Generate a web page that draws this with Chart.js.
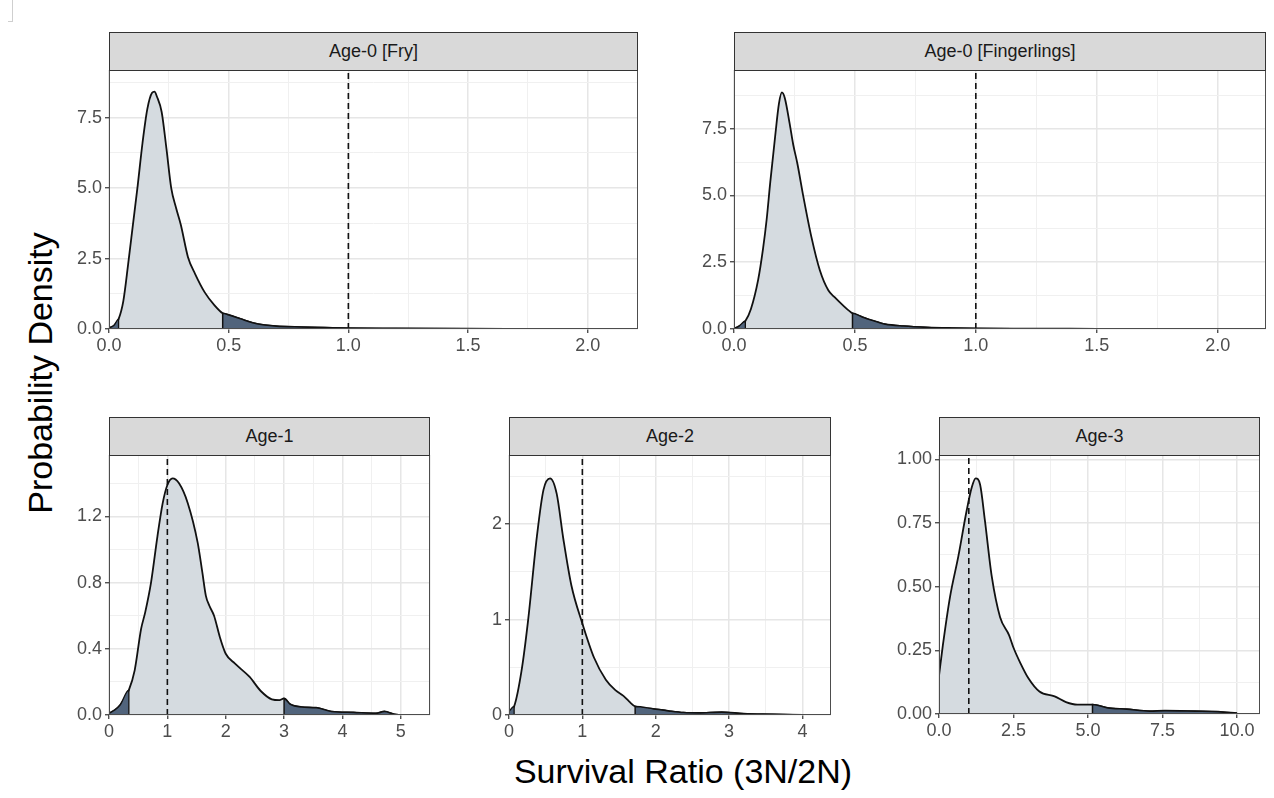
<!DOCTYPE html>
<html>
<head>
<meta charset="utf-8">
<title>Survival Ratio densities</title>
<script src="https://cdn.jsdelivr.net/npm/chart.js@4.4.1/dist/chart.umd.min.js"></script>
<style>
  html, body { margin: 0; padding: 0; background: #fff; }
  #fig { position: relative; width: 1274px; height: 798px; overflow: hidden;
         font-family: "Liberation Sans", Arial, sans-serif; }
  .strip { position: absolute; box-sizing: border-box; background: #d9d9d9;
           border: 1px solid #333; color: #1a1a1a; font-size: 18px;
           display: flex; align-items: center; justify-content: center; }
  canvas { position: absolute; }
  .ytitle { position: absolute; width: 400px; height: 40px; line-height: 40px;
            left: -160px; top: 353px; text-align: center; font-size: 34px;
            color: #000; transform: rotate(-90deg); }
  .xtitle { position: absolute; width: 600px; left: 383px; top: 752px;
            text-align: center; font-size: 34px; color: #000; }
  .corner { position: absolute; left: 8px; top: 0; width: 4px; height: 21px;
            border-right: 1px solid #cfcfcf; border-bottom: 1px solid #cfcfcf; }
</style>
</head>
<body>
<div id="fig">
  <div class="corner"></div>
  <div class="ytitle">Probability Density</div>
  <div class="xtitle">Survival Ratio (3N/2N)</div>
</div>
<script>
/* ---------- data ---------- */

const refLine = 1;   // dashed reference at ratio = 1

// Age-0 [Fry]
const fryX = [0, 0.02, 0.04, 0.06, 0.08, 0.10, 0.12, 0.14, 0.16, 0.18, 0.19, 0.20, 0.22, 0.24, 0.26, 0.28, 0.30, 0.33, 0.36, 0.40, 0.44, 0.475, 0.50, 0.55, 0.60, 0.65, 0.70, 0.80, 0.90, 1.00, 1.20, 1.50, 1.80, 2.10];
const fryY = [0.03, 0.12, 0.35, 1.0, 2.3, 3.7, 5.1, 6.6, 7.8, 8.38, 8.42, 8.25, 7.7, 6.4, 5.0, 4.3, 3.7, 2.55, 1.95, 1.3, 0.85, 0.56, 0.5, 0.36, 0.22, 0.14, 0.1, 0.07, 0.05, 0.03, 0.02, 0.01, 0.005, 0];
const fryCuts = [0.04, 0.475];

// Age-0 [Fingerlings]
const fingX = [0, 0.02, 0.047, 0.07, 0.10, 0.12, 0.135, 0.15, 0.17, 0.186, 0.198, 0.21, 0.23, 0.245, 0.262, 0.287, 0.32, 0.355, 0.39, 0.415, 0.455, 0.49, 0.53, 0.56, 0.60, 0.625, 0.70, 0.80, 0.90, 1.00, 1.20, 1.50, 1.80, 2.05];
const fingY = [0.02, 0.1, 0.3, 0.75, 1.85, 3.0, 4.1, 5.5, 7.2, 8.45, 8.86, 8.65, 7.7, 6.9, 6.2, 4.95, 3.45, 2.2, 1.45, 1.2, 0.85, 0.59, 0.45, 0.35, 0.24, 0.18, 0.11, 0.06, 0.035, 0.02, 0.012, 0.008, 0.005, 0];
const fingCuts = [0.047, 0.49];

// Age-1
const age1X = [0, 0.1, 0.19, 0.34, 0.44, 0.55, 0.62, 0.72, 0.83, 0.92, 1.0, 1.09, 1.2, 1.35, 1.52, 1.6, 1.66, 1.72, 1.8, 1.9, 2.0, 2.16, 2.41, 2.6, 2.79, 2.92, 3.0, 3.1, 3.3, 3.55, 3.81, 4.19, 4.57, 4.72, 4.89, 5.0];
const age1Y = [0.01, 0.03, 0.06, 0.15, 0.27, 0.52, 0.62, 0.8, 1.08, 1.28, 1.39, 1.43, 1.40, 1.28, 1.04, 0.86, 0.72, 0.66, 0.6, 0.47, 0.37, 0.31, 0.23, 0.145, 0.095, 0.09, 0.1, 0.066, 0.048, 0.044, 0.021, 0.015, 0.01, 0.021, 0.004, 0];
const age1Cuts = [0.34, 3.0];

// Age-2
const age2X = [0, 0.07, 0.17, 0.26, 0.38, 0.47, 0.56, 0.65, 0.74, 0.85, 1.0, 1.16, 1.32, 1.45, 1.56, 1.64, 1.72, 1.97, 2.17, 2.38, 2.58, 2.9, 3.2, 3.6, 4.0];
const age2Y = [0.036, 0.09, 0.46, 0.99, 1.87, 2.36, 2.48, 2.32, 1.85, 1.36, 0.96, 0.6, 0.37, 0.26, 0.2, 0.14, 0.09, 0.064, 0.043, 0.025, 0.021, 0.03, 0.014, 0.007, 0];
const age2Cuts = [0.07, 1.72];

// Age-3
const age3X = [0, 0.13, 0.37, 0.65, 0.93, 1.1, 1.23, 1.38, 1.54, 1.77, 2.05, 2.35, 2.5, 2.73, 3.0, 3.37, 3.88, 4.26, 4.64, 5.15, 5.66, 6.3, 7.07, 7.58, 8.6, 9.36, 10.0];
const age3Y = [0.15, 0.27, 0.46, 0.62, 0.80, 0.89, 0.925, 0.90, 0.76, 0.54, 0.38, 0.31, 0.26, 0.2, 0.14, 0.088, 0.069, 0.047, 0.037, 0.037, 0.024, 0.019, 0.011, 0.013, 0.011, 0.009, 0.003];
const age3Cuts = [null, 5.15];

// tick values and labels
const fryXTicks  = [0, 0.5, 1, 1.5, 2];       const fryXLabels  = ['0.0', '0.5', '1.0', '1.5', '2.0'];
const fryYTicks  = [0, 2.5, 5, 7.5];          const fryYLabels  = ['0.0', '2.5', '5.0', '7.5'];
const age1XTicks = [0, 1, 2, 3, 4, 5];        const age1XLabels = ['0', '1', '2', '3', '4', '5'];
const age1YTicks = [0, 0.4, 0.8, 1.2];        const age1YLabels = ['0.0', '0.4', '0.8', '1.2'];
const age2XTicks = [0, 1, 2, 3, 4];           const age2XLabels = ['0', '1', '2', '3', '4'];
const age2YTicks = [0, 1, 2];                 const age2YLabels = ['0', '1', '2'];
const age3XTicks = [0, 2.5, 5, 7.5, 10];      const age3XLabels = ['0.0', '2.5', '5.0', '7.5', '10.0'];
const age3YTicks = [0, 0.25, 0.5, 0.75, 1];   const age3YLabels = ['0.00', '0.25', '0.50', '0.75', '1.00'];

/* ---------- layout ---------- */

const Y_AXIS_W = 60;
const X_AXIS_H = 34;
const PAD_TOP  = 20;
const PAD_RIGHT = 16;
const STRIP_H  = 39;

const LIGHT = '#d5dbe0';
const DARK  = '#51647c';
const INK   = '#111111';

const panels = [
  { title: 'Age-0 [Fry]',         xs: fryX,  ys: fryY,  cuts: fryCuts,  xMax: 2.21,  yMax: 9.19,
    xT: fryXTicks,  xL: fryXLabels,  yT: fryYTicks,  yL: fryYLabels,  box: { l: 109, r: 638,  t: 70,  b: 329 } },
  { title: 'Age-0 [Fingerlings]', xs: fingX, ys: fingY, cuts: fingCuts, xMax: 2.2,   yMax: 9.7,
    xT: fryXTicks,  xL: fryXLabels,  yT: fryYTicks,  yL: fryYLabels,  box: { l: 734, r: 1266, t: 70,  b: 329 } },
  { title: 'Age-1',               xs: age1X, ys: age1Y, cuts: age1Cuts, xMax: 5.5,   yMax: 1.571,
    xT: age1XTicks, xL: age1XLabels, yT: age1YTicks, yL: age1YLabels, box: { l: 109, r: 430,  t: 455, b: 715 } },
  { title: 'Age-2',               xs: age2X, ys: age2Y, cuts: age2Cuts, xMax: 4.39,  yMax: 2.725,
    xT: age2XTicks, xL: age2XLabels, yT: age2YTicks, yL: age2YLabels, box: { l: 509, r: 831,  t: 455, b: 715 } },
  { title: 'Age-3',               xs: age3X, ys: age3Y, cuts: age3Cuts, xMax: 10.77, yMax: 1.017,
    xT: age3XTicks, xL: age3XLabels, yT: age3YTicks, yL: age3YLabels, box: { l: 939, r: 1260, t: 455, b: 714 } }
];

/* ---------- helpers ---------- */

function pts(xs, ys) { return xs.map((x, i) => ({ x: x, y: ys[i] })); }

function lowTail(xs, ys, cut) {
  const p = pts(xs, ys).filter(d => d.x <= cut);
  p.push({ x: cut, y: 0 });
  return p;
}
function highTail(xs, ys, cut) {
  return [{ x: cut, y: 0 }].concat(pts(xs, ys).filter(d => d.x >= cut));
}

// majors plus ggplot-style minor breaks half way between them
function withMinor(majors, max) {
  const out = majors.slice();
  for (let i = 0; i < majors.length - 1; i++) out.push((majors[i] + majors[i + 1]) / 2);
  const step = majors[1] - majors[0];
  const extra = majors[majors.length - 1] + step / 2;
  if (extra <= max + 1e-9) out.push(extra);
  return out.sort((a, b) => a - b);
}

function axisOpts(majors, labels, max, isX) {
  const all = withMinor(majors, max);
  const isMajor = v => majors.indexOf(v) !== -1;
  return {
    type: 'linear', min: 0, max: max,
    afterBuildTicks: s => { s.ticks = all.map(v => ({ value: v })); },
    afterFit: s => { if (isX) s.height = X_AXIS_H; else s.width = Y_AXIS_W; },
    border: { display: false },
    grid: {
      drawTicks: true, tickLength: 4,
      color:     ctx => isMajor(ctx.tick.value) ? '#e6e6e6' : '#f0f0f0',
      lineWidth: ctx => isMajor(ctx.tick.value) ? 1.5 : 1,
      tickColor: ctx => isMajor(ctx.tick.value) ? '#333333' : 'rgba(0,0,0,0)',
      tickWidth: 1.2
    },
    ticks: {
      autoSkip: false, maxRotation: 0, minRotation: 0,
      padding: isX ? 2 : 3,
      color: '#4d4d4d',
      font: { family: 'Liberation Sans', size: 18 },
      callback: v => { const i = majors.indexOf(v); return i === -1 ? '' : labels[i]; }
    }
  };
}

const panelBorder = {
  id: 'panelBorder',
  afterDraw(chart) {
    const a = chart.chartArea, c = chart.ctx;
    c.save();
    c.strokeStyle = '#4d4d4d';
    c.lineWidth = 1;
    c.strokeRect(Math.round(a.left) + 0.5, Math.round(a.top) + 0.5,
                 Math.round(a.right - a.left) - 1, Math.round(a.bottom - a.top) - 1);
    c.restore();
  }
};

/* ---------- draw ---------- */

const fig = document.getElementById('fig');

panels.forEach(p => {
  const b = p.box;

  const strip = document.createElement('div');
  strip.className = 'strip';
  strip.textContent = p.title;
  strip.style.left = b.l + 'px';
  strip.style.top = (b.t - STRIP_H + 1) + 'px';
  strip.style.width = (b.r - b.l) + 'px';
  strip.style.height = STRIP_H + 'px';

  const cv = document.createElement('canvas');
  const w = (b.r - b.l) + Y_AXIS_W + PAD_RIGHT;
  const h = (b.b - b.t) + PAD_TOP + X_AXIS_H;
  cv.width = w; cv.height = h;
  cv.style.width = w + 'px'; cv.style.height = h + 'px';
  cv.style.left = (b.l - Y_AXIS_W) + 'px';
  cv.style.top = (b.t - PAD_TOP) + 'px';
  fig.appendChild(cv);
  fig.appendChild(strip);

  const datasets = [
    { data: pts(p.xs, p.ys), borderColor: INK, borderWidth: 1.8, backgroundColor: LIGHT,
      fill: 'origin', cubicInterpolationMode: 'monotone', order: 3 }
  ];
  if (p.cuts[0] !== null) datasets.push(
    { data: lowTail(p.xs, p.ys, p.cuts[0]), borderColor: INK, borderWidth: 1.3, backgroundColor: DARK,
      fill: 'origin', cubicInterpolationMode: 'monotone', order: 2 });
  if (p.cuts[1] !== null) datasets.push(
    { data: highTail(p.xs, p.ys, p.cuts[1]), borderColor: INK, borderWidth: 1.5, backgroundColor: DARK,
      fill: 'origin', cubicInterpolationMode: 'monotone', order: 2 });
  datasets.push(
    { data: [{ x: refLine, y: 0 }, { x: refLine, y: p.yMax }], borderColor: INK, borderWidth: 1.6,
      borderDash: [6, 4], fill: false, tension: 0, order: 1 });

  new Chart(cv, {
    type: 'line',
    data: { datasets: datasets },
    options: {
      responsive: false, animation: false, devicePixelRatio: 1,
      layout: { autoPadding: false, padding: { top: PAD_TOP, right: PAD_RIGHT, left: 0, bottom: 0 } },
      elements: { point: { radius: 0 } },
      plugins: { legend: { display: false }, tooltip: { enabled: false } },
      scales: {
        x: axisOpts(p.xT, p.xL, p.xMax, true),
        y: axisOpts(p.yT, p.yL, p.yMax, false)
      }
    },
    plugins: [panelBorder]
  });
});
</script>
</body>
</html>
